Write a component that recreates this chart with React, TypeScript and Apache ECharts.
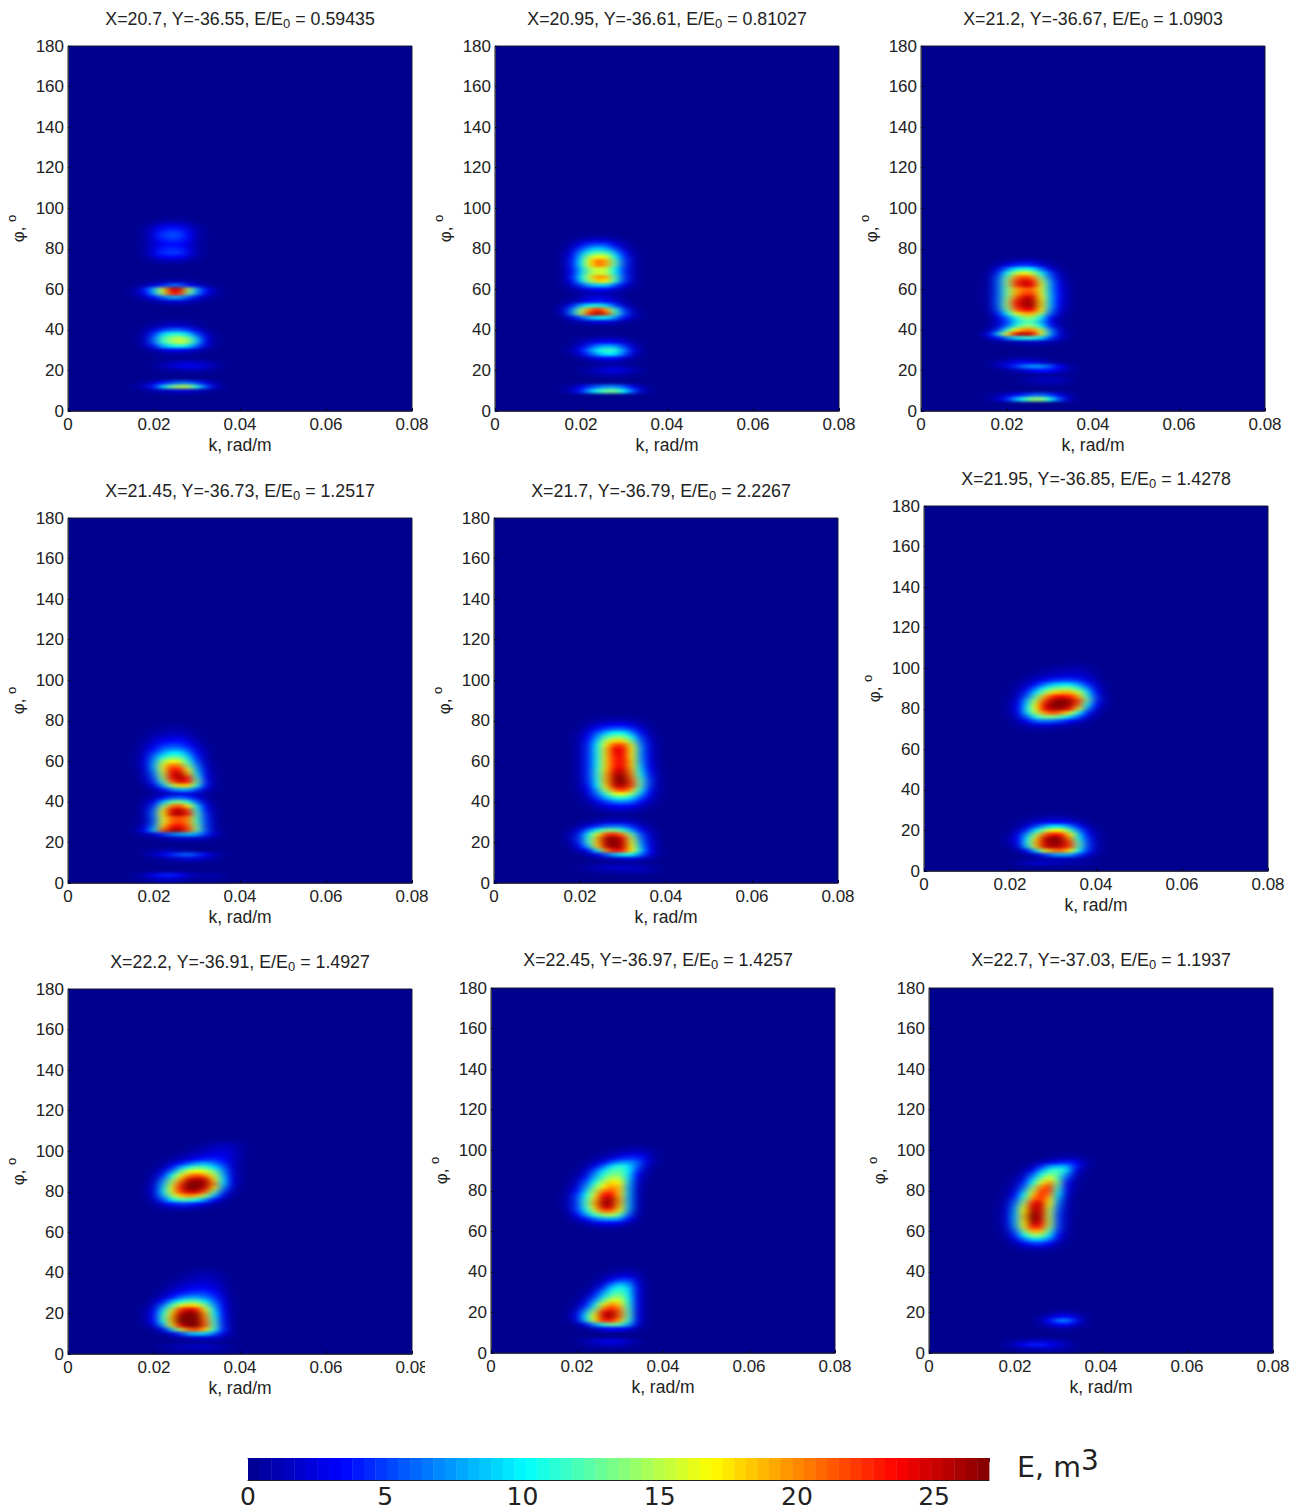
import React, { useEffect, useRef } from "react";
import * as echarts from "echarts";

const K_COLUMNS = [0.014, 0.016, 0.018, 0.02, 0.022, 0.024, 0.026, 0.028, 0.03, 0.032, 0.034, 0.036, 0.038, 0.04, 0.042];
const X_TICKS_MAX = 0.08;
const PHI_MAX = 180;
const COLORBAR_MAX = 27;

const panelTitles = [
  ["X=20.7, Y=-36.55, E/E", "0", " = 0.59435"],
  ["X=20.95, Y=-36.61, E/E", "0", " = 0.81027"],
  ["X=21.2, Y=-36.67, E/E", "0", " = 1.0903"],
  ["X=21.45, Y=-36.73, E/E", "0", " = 1.2517"],
  ["X=21.7, Y=-36.79, E/E", "0", " = 2.2267"],
  ["X=21.95, Y=-36.85, E/E", "0", " = 1.4278"],
  ["X=22.2, Y=-36.91, E/E", "0", " = 1.4927"],
  ["X=22.45, Y=-36.97, E/E", "0", " = 1.4257"],
  ["X=22.7, Y=-37.03, E/E", "0", " = 1.1937"],
];

// each row: phi, then E at K_COLUMNS (trailing zeros omitted)
const panel1Rows = [
  [94, 0,0,0,.2,.5,.6,.6,.3],
  [92, 0,0,.2,.9,1.8,2.2,2,1.2,.5,.1],
  [90, 0,0,.5,1.8,3.4,4,3.7,2.2,.8,.1],
  [88, 0,.1,.7,2.4,4.4,5.2,4.8,3,1,.2],
  [86, 0,.1,.7,2.5,4.6,5.3,5,3.2,1,.2],
  [84, 0,.1,.6,2.2,3.8,4.4,4.2,2.8,.8,.1],
  [82, 0,.1,.5,2,3.2,3.6,3.4,2.2,.7,.1],
  [80, 0,.1,.6,2.4,4,4.4,4.2,2.6,.8,.1],
  [78, 0,.1,.7,2.6,4.4,5,4.7,2.8,.8,.1],
  [76, 0,0,.4,1.8,3,3.4,3.2,1.9,.6],
  [74, 0,0,.1,.5,.9,1.1,1,.6,.2],
  [64, 0,0,.1,.3,.7,1,1,.6,.3,.1],
  [62, 0,.3,1,2.2,4,6,6,3.5,1.8,.6,.1],
  [60, .2,1,4,8.5,16,25,25,15,7.5,3.5,1,.2],
  [58, .2,1,3.5,8,15,23,23,13,7,3,.9,.2],
  [56, 0,.4,1.4,3.5,6,8,8,5,2.6,1,.3],
  [54, 0,0,.2,.6,1.3,1.8,1.8,1.2,.6,.1],
  [44, 0,0,0,.2,.5,.7,.7,.5,.2],
  [42, 0,0,.2,.7,1.4,2,2,1.4,.6,.1],
  [40, 0,.1,.6,2.2,4.6,6,6,4.5,2.4,.7,.1],
  [38, 0,.2,1.2,4.5,9,11,11,9,5,1.8,.3],
  [36, 0,.2,1.5,6,11.5,14,15,13,8,2.6,.5],
  [34, 0,.2,1.5,6,11.5,14,16,14,8.5,3,.5],
  [32, 0,.1,1,3.8,8,10,11,9.5,5.5,2,.4],
  [30, 0,0,.2,.8,2,2.8,3,2.4,1.3,.5],
  [28, 0,0,0,.1,.4,.6,.6,.5,.2],
  [24, 0,0,0,.2,.7,1.2,1.6,1.8,1.6,1.1,.6,.1],
  [22, 0,0,.1,.4,1,1.8,2.6,3,2.8,2,1,.3],
  [20, 0,0,0,0,.2,.4,.7,.9,.8,.5,.2],
  [14, 0,.1,.7,1.8,3.6,5,6,6,4.5,2.4,.8,.1],
  [12, .1,.6,1.8,4,9,13,15,15,11,5.5,2,.4],
  [10, 0,.1,.3,.7,1.2,1.8,2,2,1.4,.6,.1],
];

const panel2Rows = [
  [86, 0,0,0,.2,.5,.6,.5,.2],
  [84, 0,0,.4,1.2,2.2,2.5,2.2,1.2,.4],
  [82, 0,.1,1,3,5,5.5,5,3,1,.2],
  [80, 0,.2,1.8,5,8,9,8,5,1.8,.4],
  [78, 0,.5,3,7.5,11,13,12,8,3.6,.8,.1],
  [76, 0,.6,3.6,9,15,17,16,10,4.6,1.1,.1],
  [74, 0,.7,4,10,17,21,19,12,5,1.3,.1],
  [72, 0,.7,4,10,17,21,19,12,5,1.3,.1],
  [70, 0,.6,3.6,9,14,16,15,10,4.6,1.2,.1],
  [68, 0,.6,3.6,9,14,16,15,10,4.6,1.2,.1],
  [66, 0,.7,4,10,16,20,19,12,5,1.4,.1],
  [64, 0,.5,3.4,9,14,18,17,11,4.6,1.1,.1],
  [62, 0,.3,1.8,5,8,9,9,5.5,2.6,.6],
  [60, 0,.1,.7,1.8,2.8,3.4,3.4,2,.9,.2],
  [58, 0,0,.2,.6,1,1.2,1,.6,.2],
  [56, 0,.1,.4,1,2,2.4,2,1,.3],
  [54, 0,.2,.7,2,3.5,4.2,3.5,2,.7,.1],
  [52, .1,1,4,8,10.5,11,9,5,1.8,.3],
  [50, .2,2,7,14,20,23,19,11,4.6,1.1,.1],
  [48, .1,1.6,7,15,23,26,22,12,5.5,1.8,.3],
  [46, 0,.5,2.6,5.5,8.5,10,10,7,3.5,1.2,.2],
  [44, 0,0,.5,1,1.8,2.2,2.2,1.5,.6,.1],
  [36, 0,0,.1,.3,.6,1,1.2,1,.6,.2],
  [34, 0,0,.2,.9,2,2.8,3.4,3,1.9,.8,.1],
  [32, 0,.1,.5,2,4.5,7,8,7.5,4.5,1.8,.3],
  [30, 0,.3,1,3.5,7,10,12,11,7,2.6,.5],
  [28, 0,.1,.6,2.2,5,8,10,9.5,5.5,2,.3],
  [26, 0,0,.1,.6,1.6,2.8,3.4,3.4,1.9,.6,.1],
  [24, 0,0,0,0,.2,.4,.6,.6,.3],
  [22, 0,0,0,.1,.3,.7,1,1.2,1,.5,.1],
  [20, 0,0,.1,.4,1,1.8,2.6,2.8,2.2,1.2,.5],
  [18, 0,0,0,.1,.3,.7,1,1,.7,.3],
  [12, 0,.3,1,2.6,4.6,6,7,7,5.5,3,1,.2],
  [10, .1,.5,1.6,4,8,11,13,13,10,5.5,1.8,.4],
];

const panel3Rows = [
  [74, 0,0,.2,.7,1.4,1.8,1.6,.8,.3],
  [72, 0,.1,.9,2.4,4,4.6,4,2.2,.9,.2],
  [70, 0,.4,2.4,6.5,10,11,10,6,2.4,.6,.1],
  [68, 0,.6,4.5,10.5,15,17,15,10,5,1.5,.2],
  [66, .1,.8,5.5,12.5,20,22,20,13,6,2,.4],
  [64, .1,.9,6,13.5,22,25,23,15,7.5,2.6,.5],
  [62, .1,.9,6,13.5,22,25,24,16,8,3,.6],
  [60, .1,.9,6,13,19,21,21,16,8,3.2,.7],
  [58, .1,.9,6,13,19,22,22,16,8.5,3.5,.8],
  [56, .1,.9,6,13.5,21,25,25,17,8.5,3.5,.8],
  [54, .1,.9,6,14,23,26,26,18,8.5,3.4,.7],
  [52, .1,.8,6,14,23,26,26,18,8.5,3,.6],
  [50, .1,.7,5.5,13,21,24,24,17,7.5,2.6,.5],
  [48, 0,.5,4,10,16,19,19,14,6,1.9,.3],
  [46, 0,.3,2.6,6,10.5,14,14,10,3.6,1,.1],
  [44, 0,.2,2,5,9,12,12,8,3,.8,.1],
  [42, 0,.3,2.4,6,11,14,14,10,4,1,.1],
  [40, 0,1,4.5,11,17,20,20,15,7,2,.3],
  [38, .5,3,9,17,24,26,24,16,8,2.6,.6,.1],
  [36, .1,1.5,3.6,6.5,9.5,11,11,9,5,2,.4],
  [34, 0,.1,.4,.6,1,1.4,1.6,1.5,1,.4],
  [26, 0,0,0,.3,.7,.8,.6,.3],
  [24, 0,.3,1,1.8,2.6,3,2.6,1.8,.9,.4],
  [22, 0,.3,1,2.6,4.6,6.5,7.5,7.5,5.5,3.4,1.2,.3],
  [20, 0,0,.1,.3,1,1.8,3,3.6,3.4,2.2,1,.2],
  [16, 0,0,0,0,.1,.5,1,1.4,1.6,1.4,.7,.2],
  [14, 0,0,0,0,0,.3,.6,.9,1,.8,.4],
  [8, 0,.3,.8,1.8,3,4.2,5.5,6,4.6,2.8,1,.2],
  [6, .1,.5,1.6,4,8,11,14,14,10.5,5.5,1.8,.4],
];

const panel4Rows = [
  [78, 0,0,0,.1,.2,.3,.3,.2],
  [76, 0,0,.1,.3,.5,.7,.7,.4,.1],
  [74, 0,0,.2,.5,1,1.3,1.3,.8,.3],
  [72, 0,0,.4,1,1.8,2.2,2.2,1.4,.5],
  [70, 0,.1,.7,1.8,3,3.6,3.6,2.4,1,.2],
  [68, 0,.2,1,2.6,4.4,5,5,3.6,1.6,.4],
  [66, 0,.3,1.5,3.6,6,7,7,5,2.4,.6],
  [64, 0,.4,1.8,5,8,10,10,7,3.4,.8],
  [62, 0,.4,2.2,6.5,11,13,13,9,4,1,.1],
  [60, 0,.4,2.4,7.5,14,17,16,11,5,1.3,.1],
  [58, 0,.4,2.4,8,16,21,20,13,6.5,1.7,.2],
  [56, 0,.3,2,7.5,16,23,23,16,7.5,2.2,.3],
  [54, 0,.2,1.7,6.5,15,24,26,19,9,2.6,.4],
  [52, 0,.1,1.4,5.5,14,24,26,23,11.5,3.2,.5],
  [50, 0,.1,1,4.4,12,21,25,23,13,4,.6],
  [48, 0,0,.5,2.4,7.5,14,18,18,11,3.6,.5],
  [46, 0,0,.1,.9,3,6,8,8,5,1.8,.3],
  [44, 0,0,.1,.4,1,1.8,2.4,2.4,1.6,.6,.1],
  [42, 0,0,.3,1.2,3.4,5.5,6,5,2.6,.7,.1],
  [40, 0,0,.7,2.8,8,12.5,14,11,5.5,1.6,.2],
  [38, 0,.1,1.1,4.6,13,20,22,17,9,2.8,.4],
  [36, 0,.1,1.4,6,16,24,26,22,11,3.6,.6],
  [34, 0,.1,1.4,6.5,17,25,26,23,12,4.4,.7],
  [32, 0,.1,1.2,6,16,21,22,20,12,4.6,.8],
  [30, 0,.1,1.2,6,16,21,22,20,12,5,.9],
  [28, 0,.2,2,7,18,23,24,21,13,5,1,.1],
  [26, .1,.8,3.4,9,21,26,26,22,13,5.5,1.2,.1],
  [24, 0,.4,1,1.8,4.4,6.5,7.5,8.5,7.5,4.5,1.8,.3],
  [22, 0,0,.1,.2,.6,1,1.3,1.6,1.6,1,.4],
  [16, 0,.1,.3,.6,.9,1,.7,.3],
  [14, 0,0,.5,1.5,2.8,4.2,5.5,6,4.8,3,1.3,.4],
  [12, 0,0,.1,.3,.6,1,1.6,1.9,1.9,1.3,.6,.1],
  [4, .1,.6,1.5,2.8,4,4.2,3,1.8,1,.9,.9,.5],
  [2, 0,.2,.6,1.3,1.8,1.8,1.3,.6,.4,.4,.4,.1],
];

const panel5Rows = [
  [82, 0,0,0,0,.1,.2,.3,.3,.3,.2,.1],
  [80, 0,0,0,.1,.3,.7,1,1.2,1.2,.9,.5,.1],
  [78, 0,0,0,.2,.8,1.8,2.6,3.2,3.2,2.4,1.2,.3],
  [76, 0,0,0,.4,1.6,3.6,5,6,6,4.5,2.2,.6],
  [74, 0,0,.1,.7,2.6,5.5,8.5,10.5,10.5,7.5,3.6,1,.1],
  [72, 0,0,.1,.9,3.4,7.5,12,14,14,10.5,5,1.6,.2],
  [70, 0,0,.1,1.1,4,9,15,18,18,13,6,2,.3],
  [68, 0,0,.1,1.2,4.4,10,17,22,22,16,7,2.4,.4],
  [66, 0,0,.1,1.2,4.6,10.5,18,24,24,17,7.5,2.6,.4],
  [64, 0,0,.1,1.2,4.6,10.5,18,24,24,17,7.5,2.6,.4],
  [62, 0,0,.1,1.2,4.6,10.5,18,23,24,17,7.5,2.7,.5],
  [60, 0,0,.1,1.2,4.6,10.5,18,23,24,18,8,2.8,.5],
  [58, 0,0,.1,1.1,4.6,10.5,18,23,24,18,8.5,3,.6],
  [56, 0,0,.1,1.1,4.6,11,18,24,25,19,9.5,3.4,.7],
  [54, 0,0,.1,1.1,4.6,11,19,25,26,20,10.5,4,.8],
  [52, 0,0,.1,1.1,4.6,11,19,26,27,21,11.5,4.6,1],
  [50, 0,0,.1,1,4.4,10.5,19,26,27,22,12.5,5,1.1,.1],
  [48, 0,0,.1,.9,3.8,10,18,25,26,22,12.5,4.8,1,.1],
  [46, 0,0,0,.7,3.2,8,15,21,23,19,11,4.2,.9,.1],
  [44, 0,0,0,.5,2.4,6.5,11.5,16,17,14,8.5,3.4,.7],
  [42, 0,0,0,.3,1.6,4.5,8,11,11.5,9.5,5.5,2.4,.5],
  [40, 0,0,0,.2,.9,2.6,4.6,6.5,7,6,3.5,1.4,.3],
  [38, 0,0,0,.1,.4,1.2,2.4,3.4,3.6,3,1.7,.6,.1],
  [36, 0,0,0,0,.1,.5,1,1.4,1.5,1.2,.6,.2],
  [32, 0,0,0,0,.1,.3,.5,.6,.6,.4,.2],
  [30, 0,0,0,.3,.7,1.2,1.8,2.2,2.2,1.6,.8,.2],
  [28, 0,0,.1,1,2.6,4.4,6,6.5,6,4.4,2,.6,.1],
  [26, 0,.1,.6,2.6,6.5,10.5,13.5,13.5,11.5,7.5,3.6,1.1,.2],
  [24, 0,.2,1,4.4,10.5,16,22,23,20,12.5,5.5,2,.4],
  [22, 0,.2,1.2,5,11.5,19,26,27,24,15,6.5,2.4,.4],
  [20, 0,.1,1,4.4,11.5,19,26,27,25,16,7.5,2.6,.5],
  [18, 0,0,.7,3.4,8.5,18,25,27,25,17,8.5,3,.6],
  [16, 0,0,.3,1.2,3.4,10,20,24,23,17,9.5,3.4,.7],
  [14, 0,0,0,.2,.8,2.6,5.5,8.5,10.5,10.5,6.5,2.6,.6],
  [12, 0,0,0,0,.1,.4,.8,1.3,1.8,2.2,1.6,.7,.2],
  [8, 0,0,.1,.3,.7,1.2,1.6,1.9,1.8,1.6,1.2,.8,.3],
  [6, 0,0,0,.1,.3,.6,.8,.9,1,1.2,1.2,.9,.4],
];

const panel6Rows = [
  [102, 0,0,0,0,0,0,0,0,.1,.2,.3,.3,.2],
  [100, 0,0,0,0,0,0,.1,.3,.6,.7,.9,.9,.6,.2],
  [98, 0,0,0,0,0,.1,.3,.7,1,1.3,1.6,1.5,1,.4],
  [96, 0,0,0,0,.1,.4,.8,1.5,2,2.3,2.4,2.2,1.6,.6],
  [94, 0,0,0,0,.2,.7,2,3,4.4,5,5,4.4,2.6,1,.1],
  [92, 0,0,0,.1,.5,1.5,3.6,6.5,8.5,9.5,9.5,7.5,4.4,1.7,.3],
  [90, 0,0,0,.1,.9,3,6.5,10.5,13,14,14,11.5,7,2.5,.4],
  [88, 0,0,0,.2,1.3,4.5,9.5,14,18,19,19,15.5,9.5,3.4,.6],
  [86, 0,0,0,.3,2,6,12.5,19,23,24,23,19,11.5,4.4,.7],
  [84, 0,0,0,.5,2.6,8.5,15,22,26,27,26,22,12.5,4.4,.7],
  [82, 0,0,.1,.7,3.4,9.5,17,24,27,27,26,21,10.5,3.4,.5],
  [80, 0,0,.1,.7,3.6,10.5,17,24,26,26,24,16,7,2,.3],
  [78, 0,0,.1,.5,3,9.5,15,20,22,20,16,10,4,1.1,.1],
  [76, 0,0,0,.4,2,6,11,13.5,13.5,12,9,5.5,2,.5],
  [74, 0,0,0,.2,1.1,3.4,6,6.5,6,5,3.4,1.8,.6],
  [72, 0,0,0,.1,.5,1.3,2.2,2.2,2,1.4,.8,.4,.1],
  [70, 0,0,0,0,.1,.3,.6,.6,.4,.2,.1],
  [28, 0,0,0,0,0,.1,.2,.3,.3,.3,.2],
  [26, 0,0,0,0,.1,.3,.7,1,1.2,1.2,.8,.4,.1],
  [24, 0,0,0,.1,.3,.9,1.9,2.8,3.4,3.4,2.6,1.3,.4],
  [22, 0,0,0,.1,.6,2.2,5,8,10,9.5,7,3.8,1.3,.3],
  [20, 0,0,0,.3,1.6,4.6,10,14,17,17,12,6.5,2.6,.5],
  [18, 0,0,.1,.6,2.8,8,14,21,24,23,17,9,3.6,.8,.1],
  [16, 0,0,.1,.8,3.4,10,18,25,27,26,20,10.5,4.4,1,.1],
  [14, 0,0,.1,.8,3.4,11,19,25,27,26,22,12,5,1.1,.1],
  [12, 0,0,0,.5,2.2,9,18,25,26,25,22,12,5,1.3,.2],
  [10, 0,0,0,.1,.7,3.2,9,16,20,21,17,10,4.4,1.1,.1],
  [8, 0,0,0,0,.1,.5,1.8,4.4,7,8,7.5,5,2.2,.6],
  [6, 0,0,0,0,0,.1,.3,.6,.9,1.2,1.2,.8,.4,.1],
  [4, 0,0,0,.1,.7,1.4,1.8,1.8,1.4,1.1,.8,.6,.4,.2],
];

const panel7Rows = [
  [104, 0,0,0,0,0,0,0,0,.1,.5,.8,1,1,.5,.1],
  [102, 0,0,0,0,0,0,0,.1,.5,.8,1.3,1.7,1.5,.8,.1],
  [100, 0,0,0,0,0,0,.1,.5,1,1.5,2,2.3,1.7,.8,.1],
  [98, 0,0,0,0,0,.1,.5,1,1.8,2.4,2.8,2.8,2,.8,.1],
  [96, 0,0,0,0,.1,.5,1.2,2.2,3.4,4.2,4.4,3.5,2,.6],
  [94, 0,0,0,0,.3,1.6,3.6,5.5,7.5,8,6.5,4.6,2,.6],
  [92, 0,0,0,.2,1,3.6,7.5,11,13,12,9.5,6,2.2,.4],
  [90, 0,0,0,.4,2.2,6.5,12,16,17,16,13,7.5,2.4,.4],
  [88, 0,0,.1,.8,4,10,16,20,22,20,15.5,8.5,2.6,.4],
  [86, 0,0,.1,1.3,6,13,19,25,26,25,18,9.5,2.8,.4],
  [84, 0,0,.1,1.8,7.5,15,22,27,27,26,20,9.5,2.6,.3],
  [82, 0,0,.2,2.2,8.5,16,23,27,27,25,18,7.5,1.9,.2],
  [80, 0,0,.2,2.4,9,16,22,25,25,21,13,5,1.2,.1],
  [78, 0,0,.2,2,7.5,13.5,18,20,19,14,8,2.6,.5],
  [76, 0,0,.1,1.2,5,9.5,12,12,10.5,7,3.4,.9,.1],
  [74, 0,0,0,.5,2,3.8,4.6,4.6,3.6,2,.8,.2],
  [72, 0,0,0,.1,.5,1,1.2,1.2,.8,.3,.1],
  [42, 0,0,0,0,0,0,0,.1,.3,.3,.2],
  [40, 0,0,0,0,0,0,.1,.5,.7,.9,.7,.3],
  [38, 0,0,0,0,0,.1,.3,.7,1.1,1.3,1.1,.5],
  [36, 0,0,0,0,.1,.3,.7,1.3,1.7,1.8,1.5,.7,.1],
  [34, 0,0,0,0,.2,.6,1.3,2,2.4,2.6,2,.9,.2],
  [32, 0,0,0,0,.3,1.2,2.2,2.9,3.6,3.6,2.6,1.2,.2],
  [30, 0,0,0,.1,.8,2.2,3.6,4.6,5,5,3.6,1.7,.3],
  [28, 0,0,0,.4,1.7,3.6,6,7.5,7.5,6.5,4.6,2.2,.3],
  [26, 0,0,.1,1,3.6,7.5,10.5,12.5,12.5,9.5,6,2.6,.4],
  [24, 0,0,.2,1.7,6,11.5,16,18,17.5,13,7.5,3,.4],
  [22, 0,0,.5,2.6,8.5,15,22,25,23,16,9,3.2,.4],
  [20, 0,0,.7,3.4,10.5,18,25,27,26,19,10,3.5,.5],
  [18, 0,0,.7,3.6,11.5,19,27,27,27,20,11,3.8,.5],
  [16, 0,0,.7,3.4,10.5,19,27,27,27,21,11.5,3.8,.5],
  [14, 0,0,.4,1.8,7,16,24,27,27,21,12,4.2,.5],
  [12, 0,0,.1,.4,2.6,8,15,21,22,18,11,4.2,.7],
  [10, 0,0,0,0,.6,1.8,4.4,8,9,9,6,2.6,.5],
  [8, 0,0,0,0,.1,.3,.7,1.2,1.8,2,1.8,.8,.3],
  [4, 0,0,0,.1,.5,.8,1.1,1.4,1.6,1.6,1.2,.8,.4],
  [2, 0,0,0,0,.2,.4,.6,.7,.9,.9,.7,.4,.2],
];

const panel8Rows = [
  [102, 0,0,0,0,0,0,0,0,.1,.3,.4,.3],
  [100, 0,0,0,0,0,0,.1,.4,.7,1,1.3,.9,.4],
  [98, 0,0,0,0,0,.1,.4,.9,1.7,2.4,2.6,1.8,.6],
  [96, 0,0,0,0,.1,.4,1.2,2.2,4,4.6,4.4,2.4,.6],
  [94, 0,0,0,0,.2,1.2,2.8,5.5,7.5,7.5,6,2.6,.5],
  [92, 0,0,0,.1,.7,2.8,6,9.5,11.5,9.5,5.5,1.8,.2],
  [90, 0,0,0,.2,1.5,5,9,12,12.5,10,4.5,1.1,.1],
  [88, 0,0,.1,.4,2.6,7,11,13.5,13.5,9.5,3.4,.6],
  [86, 0,0,.1,1,4,8.5,12.5,15.5,15,9,2.6,.4],
  [84, 0,0,.2,1.6,5.5,10.5,15,18,17,8.5,2,.2],
  [82, 0,0,.4,2.4,7,12.5,17,20,18,8,1.6,.1],
  [80, 0,0,.7,3.4,8.5,14.5,20,22,18,8,1.4],
  [78, 0,.1,1,4.6,10,16,23,24,18,8,1.3],
  [76, 0,.1,1.2,5,11,18,25,26,19,8,1.3],
  [74, 0,.1,1.2,5,11.5,19,26,26,19,8,1.2],
  [72, 0,.1,1.2,5,11,18,25,25,18,8,1.2],
  [70, 0,.1,.9,4.4,9.5,15,21,21,16,7,1],
  [68, 0,0,.5,3,7,11,14,15,12,5.5,.7],
  [66, 0,0,.1,1.3,3.4,6,7.5,8,7,3.4,.5],
  [64, 0,0,0,.4,1.1,2.2,3,3.2,2.6,1.1,.2],
  [62, 0,0,0,0,.2,.5,.7,.7,.5,.1],
  [42, 0,0,0,0,0,0,0,.1,.2,.3,.1],
  [40, 0,0,0,0,0,0,.1,.5,.9,1.1,.6],
  [38, 0,0,0,0,0,.1,.5,1.4,2.2,2.6,1.3,.1],
  [36, 0,0,0,0,0,.2,1.1,3,5,5,2,.2],
  [34, 0,0,0,0,.1,.5,2.2,6,8.5,7,2.6,.3],
  [32, 0,0,0,0,.2,1.1,4.4,9,11,9,2.8,.3],
  [30, 0,0,0,.1,.5,2.6,7,11,12.5,9.5,2.8,.3],
  [28, 0,0,0,.1,1.1,4.4,9,13,14,10,2.8,.3],
  [26, 0,0,0,.4,2.2,6.5,12,16,16,10.5,2.8,.3],
  [24, 0,0,.1,.8,3.6,9,16,20,18,11,2.8,.3],
  [22, 0,0,.1,1.4,5.5,12,20,23,20,11.5,2.8,.3],
  [20, 0,0,.2,2.4,8,15,24,26,21,12,2.8,.3],
  [18, 0,0,.3,3,9.5,17,25,26,21,12,2.8,.3],
  [16, 0,0,.2,2.2,8.5,16,23,23,19,11,2.6,.3],
  [14, 0,0,0,.5,2.8,7,11,13,12,7.5,2,.2],
  [12, 0,0,0,0,.3,1.2,2.6,3.4,3.4,2.2,.7,.1],
  [6, 0,0,.1,.4,1,1.8,2.6,2.8,2.4,1.4,.7,.1],
  [4, 0,0,0,.1,.5,1,1.4,1.7,1.4,.8,.3],
];

const panel9Rows = [
  [98, 0,0,0,0,0,0,0,.1,.2,.3,.3,.1],
  [96, 0,0,0,0,0,0,.1,.4,.8,1.2,1.2,.6,.1],
  [94, 0,0,0,0,0,.3,1.2,2.4,3.6,4.4,3.4,1.3,.2],
  [92, 0,0,0,0,.2,1.3,4.2,7.5,8.5,8,4,1,.1],
  [90, 0,0,0,.1,.6,3,7.5,11,12,9.5,2.8,.5],
  [88, 0,0,0,.2,1.4,5.5,10.5,14,12,7,1.8,.2],
  [86, 0,0,.1,.5,2.6,8,13,17,12,5,1,.1],
  [84, 0,0,.1,.8,4.2,10,16,20,13,3.6,.6],
  [82, 0,0,.2,1.3,5.5,13,20,22,12,3,.4],
  [80, 0,0,.4,2.2,7.5,15,22,22,11,2.6,.3],
  [78, 0,0,.6,3.4,10,18,23,20,9.5,2,.2],
  [76, 0,.1,.8,4.6,12,20,23,18,8,1.6,.1],
  [74, 0,.1,1.1,6,14,23,25,17,7,1.3,.1],
  [72, 0,.1,1.5,7,16,25,25,16,6,1.2,.1],
  [70, 0,.2,1.7,7.5,17,26,25,15,5.5,1,.1],
  [68, 0,.2,1.9,8,18,27,25,15,5,.9],
  [66, 0,.2,1.9,8,18,27,25,15,5,.9],
  [64, 0,.2,1.8,7.5,17,26,24,15,5,.9],
  [62, 0,.2,1.5,7,16,23,22,14,5,.9],
  [60, 0,.1,1,5.5,13,19,19,12,4.4,.7],
  [58, 0,.1,.7,4,10,14,14,9.5,3.4,.5],
  [56, 0,0,.4,2.4,6,9,9,6.5,2.2,.3],
  [54, 0,0,.1,1,3,4.6,4.8,3.4,1,.1],
  [52, 0,0,0,.3,.9,1.6,1.7,1,.3],
  [50, 0,0,0,0,.1,.3,.3,.2],
  [20, 0,0,0,0,0,0,0,.4,.9,1,.6,.1],
  [18, 0,0,0,0,0,0,.5,1.4,2.8,3.4,2,.5],
  [16, 0,0,0,0,0,.1,1.2,3.4,6.5,7,3.8,.8],
  [14, 0,0,0,0,0,0,.5,1.8,3.4,3.6,1.9,.3],
  [12, 0,0,0,0,0,0,0,.2,.4,.5,.2],
  [6, 0,0,.3,.7,1.1,1.6,1.8,1.6,1.1,.6,.1],
  [4, 0,.1,.7,1.8,3,4,4,3.2,2.2,1.2,.4],
  [2, 0,0,.1,.3,.6,.9,1.2,1.2,.9,.6,.1],
];

const panelRows = [panel1Rows, panel2Rows, panel3Rows, panel4Rows, panel5Rows, panel6Rows, panel7Rows, panel8Rows, panel9Rows];

const JET = ["#00008f", "#0000ff", "#0080ff", "#00ffff", "#80ff80", "#ffff00", "#ff8000", "#ff0000", "#800000"];
const COLORBAR_STEPS = 64;

// layout: left, top of each plot frame; all frames are the same size
const FRAME_W = 344;
const FRAME_H = 365;
const frames = [
  [68, 46], [495, 46], [921, 46],
  [68, 518], [494, 518], [924, 506],
  [68, 989], [491, 988], [929, 988],
];
const titleOffsetY = [28, 28, 28, 28, 28, 28, 28, 29, 29];
const titleOffsetX = [-5, -5, -5, -5, -10, -5, -5, -10, -5];
const BAR = { left: 248, top: 1458, width: 741, height: 22 };
const FONT = '"Liberation Sans", Arial, sans-serif';
const BAR_FONT = '"DejaVu Sans", Verdana, sans-serif';

const cellHalfK = 0.001;
const cellHalfPhi = 1;

function cellsOf(rows: number[][]) {
  const out: number[][] = [];
  rows.forEach((row) => {
    row.slice(1).forEach((v, i) => {
      if (v > 0) out.push([K_COLUMNS[i], row[0], v]);
    });
  });
  return out;
}

function renderCell(_: any, api: any) {
  const k = api.value(0);
  const phi = api.value(1);
  const a = api.coord([k - cellHalfK, phi + cellHalfPhi]);
  const b = api.coord([k + cellHalfK, phi - cellHalfPhi]);
  return {
    type: "rect",
    shape: { x: a[0], y: a[1], width: b[0] - a[0] + 0.6, height: b[1] - a[1] + 0.6 },
    style: { fill: api.visual("color") },
  };
}

function renderBarCell(_: any, api: any) {
  const lo = api.value(0);
  const hi = api.value(1);
  const a = api.coord([lo, 1]);
  const b = api.coord([hi, 0]);
  return {
    type: "rect",
    shape: { x: a[0], y: a[1], width: b[0] - a[0] + 0.4, height: b[1] - a[1] },
    style: { fill: api.visual("color") },
  };
}

const grids = (extra: object) =>
  frames.map(([left, top]) => ({ left, top, width: FRAME_W, height: FRAME_H, outerBoundsMode: "none", ...extra }));

function baseOption() {
  const axisLine = { show: true, lineStyle: { color: "#3a3a4a", width: 1 } };
  const tick = { show: true, inside: true, length: 3, lineStyle: { color: "#000033", width: 1 } };
  const xAxes: any[] = frames.map((_, i) => ({
    type: "value", gridIndex: i, min: 0, max: X_TICKS_MAX, interval: 0.02,
    splitLine: { show: false }, axisLine, axisTick: tick,
    axisLabel: { color: "#222", fontFamily: FONT, fontSize: 17, margin: 5, hideOverlap: false },
    name: "k, rad/m", nameLocation: "middle", nameGap: 25,
    nameTextStyle: { color: "#222", fontFamily: FONT, fontSize: 17.5 },
  }));
  const yAxes: any[] = frames.map((_, i) => ({
    type: "value", gridIndex: i, min: 0, max: PHI_MAX, interval: 20,
    splitLine: { show: false }, axisLine, axisTick: tick,
    axisLabel: { color: "#222", fontFamily: FONT, fontSize: 17, margin: 4 },
    name: "\u03c6, {sup|o}", nameLocation: "middle", nameRotate: 90, nameGap: 36,
    nameTextStyle: {
      color: "#222", fontFamily: FONT, fontSize: 17,
      rich: { sup: { color: "#222", fontFamily: FONT, fontSize: 13, padding: [0, 0, 14, 0] } },
    },
  }));
  const barIndex = frames.length;
  xAxes.push(
    {
      type: "value", gridIndex: barIndex, min: 0, max: COLORBAR_MAX, interval: 5,
      splitLine: { show: false },
      axisLine: { show: true, lineStyle: { color: "#222" } },
      axisTick: { show: true, inside: true, length: 4, lineStyle: { color: "#222" } },
      axisLabel: { color: "#222", fontFamily: BAR_FONT, fontSize: 25, margin: 4, showMaxLabel: false },
    },
    {
      type: "value", gridIndex: barIndex, position: "top", min: 0, max: COLORBAR_MAX, interval: 5,
      splitLine: { show: false },
      axisLine: { show: true, lineStyle: { color: "#222" } },
      axisTick: { show: true, inside: true, length: 4, lineStyle: { color: "#222" } },
      axisLabel: { show: false },
    }
  );
  yAxes.push({ type: "value", gridIndex: barIndex, min: 0, max: 1, show: false });
  const stepLevels = Array.from({ length: COLORBAR_STEPS }, (_, i) => {
    const lo = (i * COLORBAR_MAX) / COLORBAR_STEPS;
    const hi = ((i + 1) * COLORBAR_MAX) / COLORBAR_STEPS;
    return [lo, hi, (lo + hi) / 2];
  });
  return {
    animation: false,
    backgroundColor: "#ffffff",
    title: panelTitles.map((t, i) => ({
      text: `${t[0]}{sub|${t[1]}}${t[2]}`,
      left: frames[i][0] + FRAME_W / 2 + titleOffsetX[i],
      top: frames[i][1] - titleOffsetY[i] - 15,
      textAlign: "center",
      textStyle: {
        color: "#222", fontFamily: FONT, fontSize: 17.8, fontWeight: "normal",
        rich: { sub: { color: "#222", fontFamily: FONT, fontSize: 13, padding: [9, 0, 0, 0] } },
      },
    })),
    grid: [
      ...grids({ show: true, backgroundColor: "#00008f", borderColor: "#1a1a33", borderWidth: 1 }),
      { ...BAR, show: false, outerBoundsMode: "none" },
    ],
    xAxis: xAxes,
    yAxis: yAxes,
    visualMap: {
      type: "continuous", show: false, min: 0, max: COLORBAR_MAX, dimension: 2,
      seriesIndex: 0, inRange: { color: JET },
    },
    series: [
      {
        type: "custom", name: "colorbar", xAxisIndex: barIndex, yAxisIndex: barIndex,
        data: stepLevels, encode: { x: [0, 1] }, renderItem: renderBarCell, silent: true, z: 1,
      },
    ],
    graphic: [
      {
        type: "text", left: 1017, top: 1446, z: 10,
        style: {
          text: "E, m{s|3}", fill: "#222", font: `28.5px ${BAR_FONT}`,
          rich: { s: { fill: "#222", fontFamily: BAR_FONT, fontSize: 28, padding: [0, 0, 14, 0] } },
        },
      },
      { type: "rect", shape: { x: 425, y: 1358, width: 14, height: 22 }, style: { fill: "#fff" }, z: 100 },
    ],
  };
}

function cellsOption() {
  return {
    animation: false,
    grid: grids({ show: false }),
    xAxis: frames.map((_, i) => ({ type: "value", gridIndex: i, min: 0, max: X_TICKS_MAX, show: false })),
    yAxis: frames.map((_, i) => ({ type: "value", gridIndex: i, min: 0, max: PHI_MAX, show: false })),
    visualMap: {
      type: "continuous", show: false, min: 0, max: COLORBAR_MAX, dimension: 2,
      inRange: { color: JET },
    },
    series: panelRows.map((rows, i) => ({
      type: "custom", name: `panel ${i + 1}`, xAxisIndex: i, yAxisIndex: i,
      data: cellsOf(rows), encode: { x: 0, y: 1 }, renderItem: renderCell, silent: true, clip: true,
    })),
  };
}

const layer: React.CSSProperties = { position: "absolute", left: 0, top: 0, width: 1299, height: 1511 };

export default function App() {
  const baseRef = useRef<HTMLDivElement>(null);
  const cellsRef = useRef<HTMLDivElement>(null);
  useEffect(() => {
    const base = echarts.init(baseRef.current!, undefined, { renderer: "svg" });
    const cells = echarts.init(cellsRef.current!, undefined, { renderer: "svg" });
    base.setOption(baseOption() as any);
    cells.setOption(cellsOption() as any);
    return () => {
      base.dispose();
      cells.dispose();
    };
  }, []);
  return (
    <div style={layer}>
      <svg width="0" height="0" style={{ position: "absolute" }}>
        <filter id="cellBlur" x="-5%" y="-5%" width="110%" height="110%" colorInterpolationFilters="sRGB">
          <feGaussianBlur stdDeviation="4 1.8" />
        </filter>
      </svg>
      <div ref={baseRef} style={layer} />
      <div ref={cellsRef} style={{ ...layer, filter: "url(#cellBlur)", pointerEvents: "none" }} />
    </div>
  );
}
